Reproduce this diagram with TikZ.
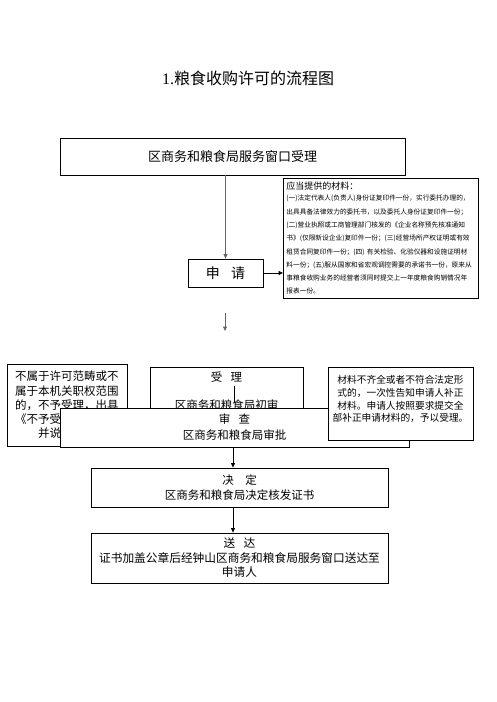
\documentclass[tikz,border=0pt]{standalone}
\usepackage{fontspec}
\setmainfont{Noto Sans CJK SC}
\newfontfamily\latinserif{Liberation Serif}
\usetikzlibrary{arrows.meta}
\begin{document}
\begin{tikzpicture}[x=1pt,y=-1pt,
  box/.style={draw, line width=0.8pt, fill=white, align=center, inner sep=0pt},
  arr/.style={-{Triangle[length=4.5pt,width=4pt]}, line width=0.8pt},
  grayarr/.style={arr, draw=black!60}]
\useasboundingbox[fill=white] (0,0) rectangle (496,702);
% title
\node[font=\fontsize{16}{18}\selectfont] (title) at (248,78) {{\latinserif 1.}粮食收购许可的流程图};
% top box
\node[box, minimum width=345, minimum height=37, font=\fontsize{13}{15}\selectfont] (top) at (232.5,156.5) {区商务和粮食局服务窗口受理};
% apply
\node[box, minimum width=75, minimum height=28, font=\fontsize{14}{16}\selectfont] (sq) at (225.5,273) {申\hspace{0.8em}请};
% materials
\node[box, anchor=north west, minimum width=195, minimum height=120, align=left, text width=189, inner xsep=3, font=\fontsize{6.7}{13.3}\selectfont] (cl) at (283,178) {{\fontsize{9}{11}\selectfont 应当提供的材料：}\\[-2.3pt]
(一)法定代表人(负责人)身份证复印件一份，实行委托办理的，\\
出具具备法律效力的委托书，以及委托人身份证复印件一份；\\
(二)营业执照或工商管理部门核发的《企业名称预先核准通知\\
书》(仅限新设企业)复印件一份；(三)经营场所产权证明或有效\\
租赁合同复印件一份；(四) 有关检验、化验仪器和设施证明材\\
料一份；(五)服从国家和省宏观调控需要的承诺书一份，原来从\\
事粮食收购业务的经营者须同时提交上一年度粮食购销情况年\\
报表一份。};
% left box
\node[box, minimum width=120, minimum height=82, font=\fontsize{11.5}{14.3}\selectfont] (left) at (67,405) {不属于许可范畴或不\\属于本机关职权范围\\的，不予受理，出具\\《不予受理决定书》\\并说明理由};
% accept box
\node[box, anchor=north, minimum width=153, inner ysep=4, font=\fontsize{11.5}{14}\selectfont] (sl) at (226.5,367) {受\hspace{0.7em}理\\[14pt]区商务和粮食局初审\\[6pt]\mbox{}};
\coordinate (sl1) at (234,386);
\coordinate (sl2) at (234,402);
\draw[line width=0.8pt] (sl1) -- (sl2);
% review box
\node[box, minimum width=349, minimum height=39, font=\fontsize{11.5}{16}\selectfont] (sc) at (234.5,427.5) {审\hspace{0.7em}查\\区商务和粮食局审批};
% right box
\node[box, minimum width=145, minimum height=73, font=\fontsize{9.7}{12.6}\selectfont] (right) at (400.5,403.5) {材料不齐全或者不符合法定形\\式的，一次性告知申请人补正\\材料。申请人按照要求提交全\\部补正申请材料的，予以受理。\\[-3pt]\mbox{}};
% decision
\node[box, minimum width=297, minimum height=39, font=\fontsize{11.5}{15}\selectfont] (jd) at (239.5,487.5) {决\hspace{1em}定\\区商务和粮食局决定核发证书};
% delivery
\node[box, minimum width=297, minimum height=50, font=\fontsize{11.7}{14.5}\selectfont] (sd) at (239.5,558) {送\hspace{0.7em}达\\证书加盖公章后经钟山区商务和粮食局服务窗口送达至\\申请人};
% connectors
\draw[grayarr] (top.south -| sq.north) -- (sq.north);
\draw[arr] (sq.east) -- (sq.east -| cl.west);
\coordinate (fa1) at (225,313);
\coordinate (fa2) at (225,331);
\draw[grayarr] (fa1) -- (fa2);
\coordinate (jx) at (233,0);
\draw[arr] (sc.south -| jx) -- (jd.north -| jx);
\draw[arr] (jd.south -| jx) -- (sd.north -| jx);
\end{tikzpicture}
\end{document}
